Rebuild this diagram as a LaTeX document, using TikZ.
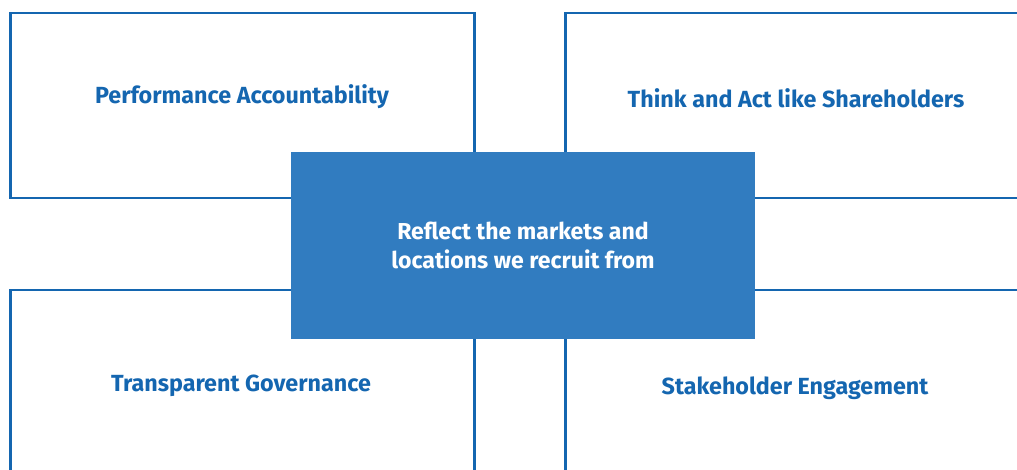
\documentclass[tikz,border=0pt]{standalone}
\usepackage{fontspec}
\setmainfont{Fira Sans}
\usetikzlibrary{positioning}

\definecolor{lineblue}{HTML}{1466B0}
\definecolor{fillblue}{HTML}{317CC0}

\begin{document}
\begin{tikzpicture}[x=0.75pt,y=-0.75pt]

\tikzset{panel/.style = {shape=rectangle,draw=lineblue,line width=1.6pt,minimum width=348pt,minimum height=139pt,inner sep=0pt}}
\tikzset{title/.style = {font=\bfseries\fontsize{17.5}{20}\selectfont,text=lineblue}}
\tikzset{core/.style = {shape=rectangle,fill=fillblue,minimum width=348pt,minimum height=140pt,inner sep=0pt,font=\bfseries\fontsize{17.3}{21.8}\selectfont,text=white,align=center}}

\useasboundingbox (0,0) rectangle (1017,470);
\clip (0,0) rectangle (1017,470);
%panels
\node[panel] (tl) at  (242.5,105.5) {};
\node[panel] (tr) at  (797.5,105.5) {};
\node[panel, minimum height=143pt] (bl) at  (242.5,385.5) {};
\node[panel, minimum height=143pt] (br) at  (797.5,385.5) {};
%titles
\node[title] (perf) at  (242,97) {Performance Accountability};
\node[title] (share) at  (796,98) {Think and Act like Shareholders};
\node[title] (gov) at  (241,386) {Transparent Governance};
\node[title] (stake) at  (795,388) {Stakeholder Engagement};
%centre
\node[core] (markets) at  (523,245.5) {Reflect the markets and\\locations we recruit from};

\end{tikzpicture}
\end{document}
